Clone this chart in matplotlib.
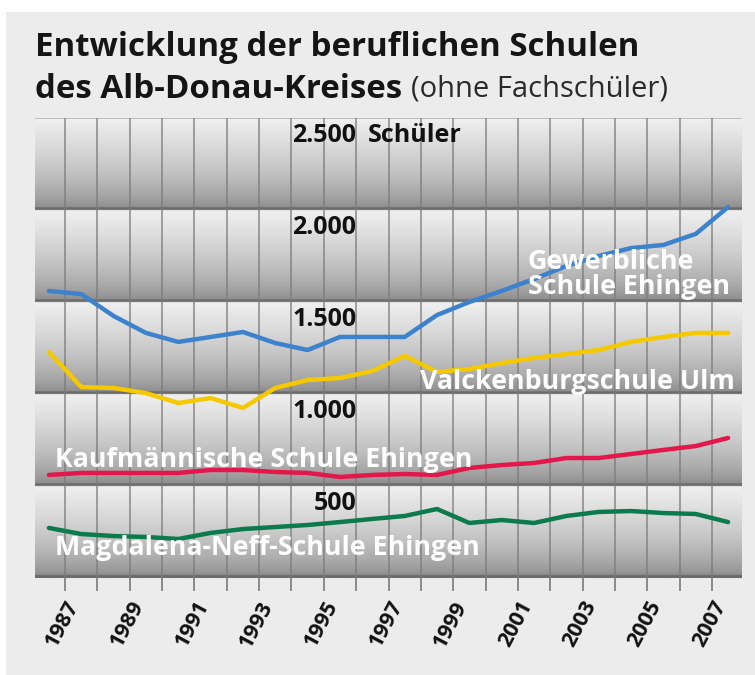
import numpy as np
import matplotlib.pyplot as plt
from matplotlib.patches import Rectangle

# Schuljahre (Punkte liegen zwischen den Jahresmarken)
jahre = list(range(1986, 2008))

gewerbliche = [1560, 1543, 1424, 1332, 1283, 1310, 1337, 1277, 1239, 1310, 1310,
               1310, 1429, 1500, 1560, 1625, 1696, 1750, 1793, 1810, 1870, 2016]
valckenburg = [1228, 1038, 1033, 1005, 951, 978, 924, 1033, 1076, 1087, 1125,
               1207, 1120, 1136, 1168, 1196, 1217, 1239, 1283, 1310, 1332, 1332]
kaufmaennische = [560, 571, 571, 571, 571, 587, 587, 576, 571, 549, 560,
                  565, 560, 598, 614, 625, 652, 652, 674, 696, 717, 761]
magdalena = [272, 239, 228, 223, 212, 245, 266, 277, 288, 304, 321,
             337, 375, 299, 315, 299, 337, 359, 364, 353, 348, 304]

y_ticks = [500, 1000, 1500, 2000, 2500]
y_labels = ['500', '1.000', '1.500', '2.000', '2.500']
tick_years = list(range(1987, 2008))
label_years = list(range(1987, 2008, 2))

FONT = 'Open Sans'
x0, x1 = 1986.07, 2007.93

fig = plt.figure(figsize=(7.55, 6.75), dpi=100, facecolor='white')
fig.patches.append(Rectangle((6 / 755, 0), 1, 1 - 12 / 675, transform=fig.transFigure,
                             facecolor='#ececec', edgecolor='none', zorder=-10))

ax = fig.add_axes([35 / 755, 97 / 675, 707 / 755, 460 / 675])
ax.set_facecolor('none')

# Graue Verlaufsbänder je 500 Schüler
yy = np.linspace(0, 2500, 1200)
t = (yy % 500) / 500
shade = 0.50 + 0.44 * t ** 0.6
shade[t < 0.03] = 0.42
img = np.tile(shade[:, None], (1, 4))
ax.imshow(img, extent=[x0, x1, 0, 2500], origin='lower', aspect='auto',
          cmap='gray', vmin=0, vmax=1, zorder=0, interpolation='bilinear')

for yr in tick_years:
    ax.axvline(yr, color='#7a7a7a', lw=1.2, alpha=0.8, zorder=1)

x = np.array(jahre) + 0.5
kw = dict(lw=3.2, solid_capstyle='round', solid_joinstyle='round', zorder=3)
ax.plot(x, gewerbliche, color='#3d82cc', **kw)
ax.plot(x, valckenburg, color='#f5c800', **kw)
ax.plot(x, kaufmaennische, color='#e3174b', **kw)
ax.plot(x, magdalena, color='#0b7a4c', **kw)

ax.set_xlim(x0, x1)
ax.set_ylim(0, 2500)
for s in ax.spines.values():
    s.set_visible(False)
ax.set_yticks([])
ax.set_xticks(label_years)
ax.set_xticks(tick_years, minor=True)
ax.set_xticklabels([str(y) for y in label_years], rotation=62, ha='right',
                   va='top', rotation_mode='anchor', fontsize=15.5,
                   fontweight='bold', family=FONT, color='#111111')
for lbl in ax.get_xticklabels():
    lbl.set_x(lbl.get_position()[0])
ax.tick_params(axis='x', which='both', length=9, width=1.2, color='#7a7a7a', pad=5)

# Werte-Beschriftung im Diagramm
for v, lab in zip(y_ticks, y_labels):
    ax.text(1996, v - 95, lab, ha='right', va='center', fontsize=18,
            fontweight='bold', family=FONT, color='#111111', zorder=4)
ax.text(1996.35, 2500 - 95, 'Schüler', ha='left', va='center', fontsize=18,
        fontweight='bold', family=FONT, color='#111111', zorder=4)

lab_kw = dict(fontsize=19.3, fontweight='bold', family=FONT, color='white',
              va='center', ha='left', zorder=4)
ax.text(2001.31, 1717, 'Gewerbliche', **lab_kw)
ax.text(2001.31, 1582, 'Schule Ehingen', **lab_kw)
ax.text(1997.97, 1065, 'Valckenburgschule Ulm', **lab_kw)
ax.text(1986.69, 641, 'Kaufmännische Schule Ehingen', **lab_kw)
ax.text(1986.69, 163, 'Magdalena-Neff-Schule Ehingen', **lab_kw)

# Titel
fig.text(35 / 755, 1 - 48 / 675, 'Entwicklung der beruflichen Schulen',
         fontsize=23.8, fontweight='bold', family=FONT, color='#151515', va='center')
t2 = fig.text(35 / 755, 1 - 89 / 675, 'des Alb-Donau-Kreises',
              fontsize=23.8, fontweight='bold', family=FONT, color='#151515', va='center')
r = fig.canvas.get_renderer()
bb = t2.get_window_extent(renderer=r)
fig.text((bb.x1 + 9) / 755, 1 - 89 / 675, '(ohne Fachschüler)', fontsize=21,
         family=FONT, color='#2a2a2a', va='center')

fig.savefig('out.png', dpi=100)
